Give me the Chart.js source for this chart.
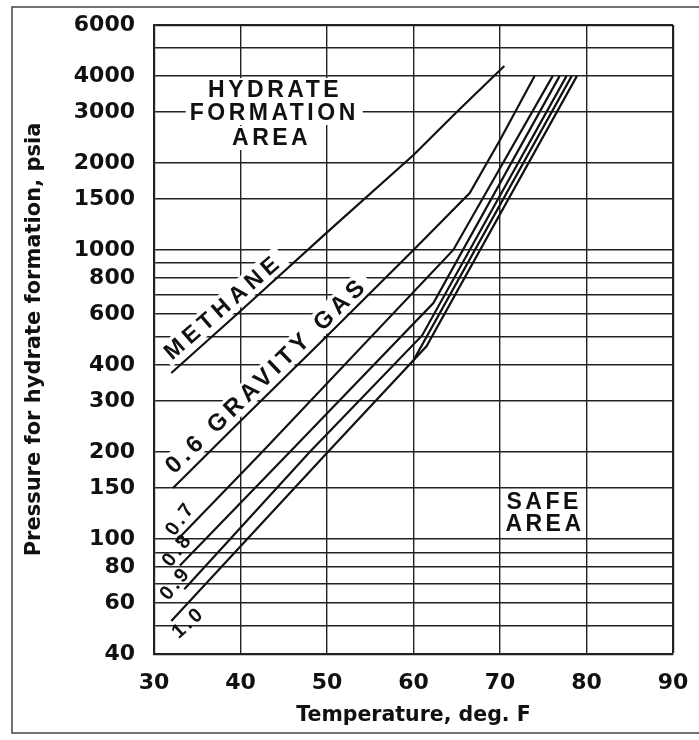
<!DOCTYPE html>
<html>
<head>
<meta charset="utf-8">
<script src="https://cdn.jsdelivr.net/npm/chart.js@4.4.0/dist/chart.umd.min.js"></script>
<style>
  html, body { margin: 0; padding: 0; background: #fff; }
</style>
</head>
<body>
<canvas id="chart" width="699" height="740"></canvas>
<script>
// axis ticks
const tempTicks = [30, 40, 50, 60, 70, 80, 90];
const pressureGrid = [40, 50, 60, 70, 80, 90, 100, 150, 200, 300, 400, 500, 600, 700, 800, 900,
  1000, 1500, 2000, 3000, 4000, 5000, 6000];
const pressureLabels = [40, 60, 80, 100, 150, 200, 300, 400, 600, 800, 1000, 1500, 2000, 3000, 4000, 6000];

// curves (temperature deg F, pressure psia)
const methaneT = [32, 40, 50, 60, 65, 70.5];
const methaneP = [375, 615, 1150, 2130, 3000, 4330];
const grav06T = [32.2, 40, 50, 60, 66.5, 70, 74];
const grav06P = [150, 256, 504, 1000, 1574, 2400, 4000];
const grav07T = [32.5, 42.5, 64.6, 76.1];
const grav07P = [98, 200, 1000, 4000];
const grav08T = [33, 45.7, 62.3, 76.9];
const grav08P = [81, 200, 655, 4000];
const grav09T = [33.5, 48.0, 61.0, 77.7];
const grav09P = [67, 200, 506, 4000];
const grav10T = [32, 50.1, 60.0, 78.3];
const grav10P = [52, 200, 415, 4000];
const grav10bT = [60.0, 61.5, 78.9];
const grav10bP = [415, 464, 4000];

const pts = (xs, ys) => xs.map((x, i) => ({x, y: ys[i]}));

const curves = [
  pts(methaneT, methaneP),
  pts(grav06T, grav06P),
  pts(grav07T, grav07P),
  pts(grav08T, grav08P),
  pts(grav09T, grav09P),
  pts(grav10T, grav10P),
  pts(grav10bT, grav10bP)
];

// text on the chart, placed in data units
const notes = [
  {text: 'HYDRATE', t: 44.0, p: 3573, angle: 0, bg: true},
  {text: 'FORMATION', t: 43.9, p: 2976, angle: 0, bg: true},
  {text: 'AREA', t: 43.6, p: 2438, angle: 0, bg: true},
  {text: 'SAFE', t: 75.1, p: 135, angle: 0},
  {text: 'AREA', t: 75.2, p: 113, angle: 0},
  {text: 'METHANE', t: 38.0, p: 637, angle: -41, bg: true, spacing: 5},
  {text: '0.6 GRAVITY GAS', t: 43.0, p: 369, angle: -44, bg: true, spacing: 4.5, size: 24},
  {text: '0.7', t: 33.0, p: 118, angle: -54, small: true},
  {text: '0.8', t: 32.66, p: 92, angle: -52, small: true},
  {text: '0.9', t: 32.43, p: 70.5, angle: -50, small: true},
  {text: '1.0', t: 33.93, p: 51.6, angle: -42, small: true}
];

const notesPlugin = {
  id: 'notes',
  beforeDatasetsDraw(chart){
    const {ctx, scales: {x, y}} = chart;
    notes.forEach(n => {
      const px = x.getPixelForValue(n.t);
      const py = y.getPixelForValue(n.p);
      const size = n.size || (n.small ? 20 : 23);
      ctx.save();
      ctx.font = 'bold ' + size + 'px "Liberation Sans"';
      ctx.letterSpacing = (n.spacing || (n.small ? 3 : 3.5)) + 'px';
      ctx.textAlign = 'center';
      ctx.textBaseline = 'middle';
      ctx.translate(px, py);
      ctx.rotate(n.angle * Math.PI / 180);
      if (n.bg){
        const w = ctx.measureText(n.text).width;
        ctx.fillStyle = '#fff';
        ctx.fillRect(-w / 2 - 4, -12, w + 8, 24);
      }
      ctx.fillStyle = '#111';
      ctx.fillText(n.text, 0, 1);
      ctx.restore();
    });
  },
  afterDraw(chart){
    const {ctx} = chart;
    ctx.save();
    ctx.strokeStyle = '#444';
    ctx.lineWidth = 1.5;
    ctx.beginPath();
    ctx.moveTo(699, 7); ctx.lineTo(12, 7); ctx.lineTo(12, 733); ctx.lineTo(699, 733);
    ctx.stroke();
    ctx.restore();
  }
};

const tickFont = {family: 'DejaVu Sans', weight: 'bold', size: 22};

new Chart(document.getElementById('chart').getContext('2d'), {
  type: 'scatter',
  data: {
    datasets: curves.map(c => ({
      data: c,
      showLine: true,
      borderColor: '#111',
      borderWidth: 2.2,
      pointRadius: 0,
      tension: 0
    }))
  },
  options: {
    responsive: false,
    animation: false,
    devicePixelRatio: 1,
    layout: {padding: 0},
    plugins: {legend: {display: false}, tooltip: {enabled: false}},
    scales: {
      x: {
        type: 'linear',
        min: 30, max: 90,
        afterBuildTicks: s => { s.ticks = tempTicks.map(v => ({value: v})); },
        afterFit: s => { s.height = 86; s.paddingLeft = 0; s.paddingRight = 26; },
        ticks: {font: tickFont, color: '#111', padding: 16, maxRotation: 0, autoSkip: false},
        grid: {
          color: '#222',
          lineWidth: c => (c.tick && c.tick.value === 90) ? 2.2 : 1.4,
          drawTicks: false
        },
        border: {color: '#222', width: 2.2},
        title: {display: true, text: 'Temperature, deg. F',
          font: {family: 'DejaVu Sans', weight: 'bold', size: 20.5}, color: '#111',
          padding: {top: 0, bottom: 12}}
      },
      y: {
        type: 'logarithmic',
        min: 40, max: 6000,
        afterBuildTicks: s => { s.ticks = pressureGrid.map(v => ({value: v})); },
        afterFit: s => { s.width = 154; s.paddingTop = 25; s.paddingBottom = 0; },
        ticks: {
          font: tickFont, color: '#111', padding: 19, autoSkip: false,
          callback: v => pressureLabels.includes(v) ? String(v) : ''
        },
        grid: {
          color: '#222',
          lineWidth: c => (c.tick && c.tick.value === 6000) ? 2.2 : 1.4,
          drawTicks: false
        },
        border: {color: '#222', width: 2.2},
        title: {display: true, text: 'Pressure for hydrate formation, psia',
          font: {family: 'DejaVu Sans', weight: 'bold', size: 21}, color: '#111',
          padding: {top: 22, bottom: 0}}
      }
    }
  },
  plugins: [notesPlugin]
});
</script>
</body>
</html>
